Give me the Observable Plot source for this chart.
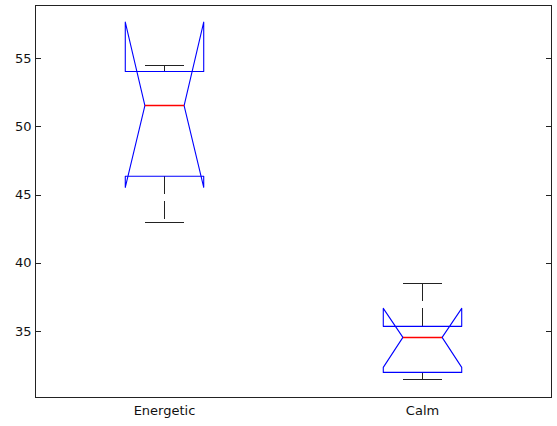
<!DOCTYPE html>
<html>
<head>
<meta charset="utf-8">
<script src="https://cdn.jsdelivr.net/npm/d3@7"></script>
<script src="https://cdn.jsdelivr.net/npm/@observablehq/plot@0.6"></script>
<style>
  html, body { margin: 0; padding: 0; background: #fff; }
  #chart svg { display: block; }
</style>
</head>
<body>
<div id="chart"></div>
<script>
// ---- Data ----
const categories   = ["Energetic", "Calm"];
const upperWhisker = [54.51, 38.48];
const q3           = [54.07, 35.37];
const median       = [51.57, 34.56];
const q1           = [46.38, 31.99];
const lowerWhisker = [43.00, 31.48];
const notchHigh    = [57.69, 36.69];
const notchLow     = [45.57, 32.36];
const yTicks       = [35, 40, 45, 50, 55];
const yDomain      = [30.15, 58.91];

// ---- Geometry constants (styles) ----
const boxHalf = 0.152;
const notchHalf = 0.076;

const stats = categories.map((c, i) => ({
  cat: c, pos: i + 1,
  uw: upperWhisker[i], q3: q3[i], med: median[i], q1: q1[i], lw: lowerWhisker[i],
  nh: notchHigh[i], nl: notchLow[i]
}));

// notched box outline (MATLAB style)
const outline = stats.flatMap(s => [
  [s.pos - boxHalf, s.q1],
  [s.pos - boxHalf, s.nl],
  [s.pos - notchHalf, s.med],
  [s.pos - boxHalf, s.nh],
  [s.pos - boxHalf, s.q3],
  [s.pos + boxHalf, s.q3],
  [s.pos + boxHalf, s.nh],
  [s.pos + notchHalf, s.med],
  [s.pos + boxHalf, s.nl],
  [s.pos + boxHalf, s.q1],
  [s.pos - boxHalf, s.q1]
].map(([x, y]) => ({cat: s.cat, x, y})));

const whiskers = stats.flatMap(s => [
  {cat: s.cat, x: s.pos, y1: s.q3, y2: s.uw},
  {cat: s.cat, x: s.pos, y1: s.q1, y2: s.lw}
]);
const caps = stats.flatMap(s => [
  {x1: s.pos - notchHalf, x2: s.pos + notchHalf, y: s.uw},
  {x1: s.pos - notchHalf, x2: s.pos + notchHalf, y: s.lw}
]);
const medians = stats.map(s => ({x1: s.pos - notchHalf, x2: s.pos + notchHalf, y: s.med}));

const axisColor = "#222";

const chart = Plot.plot({
  width: 557,
  height: 426,
  marginLeft: 35,
  marginRight: 6,
  marginTop: 5,
  marginBottom: 29,
  style: {fontFamily: "DejaVu Sans", fontSize: "13px", color: "#111", background: "#fff"},
  x: {domain: [0.5, 2.5], axis: null},
  y: {domain: yDomain, axis: null},
  marks: [
    Plot.axisY({anchor: "left", ticks: yTicks, tickSize: -6, tickPadding: 10, label: null, stroke: axisColor, fill: "#111", shapeRendering: "crispEdges"}),
    Plot.axisY({anchor: "right", ticks: yTicks, tickSize: -6, tickFormat: () => "", label: null, stroke: axisColor, shapeRendering: "crispEdges"}),
    Plot.axisX({anchor: "bottom", ticks: [1, 2], tickFormat: d => categories[d - 1], tickSize: 0, tickPadding: 8, label: null, fill: "#111"}),
    Plot.link(whiskers, {x1: "x", x2: "x", y1: "y1", y2: "y2", stroke: "#222", strokeWidth: 1, strokeDasharray: "18,7", shapeRendering: "crispEdges"}),
    Plot.link(caps, {x1: "x1", x2: "x2", y1: "y", y2: "y", stroke: "#222", strokeWidth: 1, shapeRendering: "crispEdges"}),
    Plot.line(outline, {x: "x", y: "y", z: "cat", stroke: "#0000ff", strokeWidth: 1.1, curve: "linear"}),
    Plot.link(medians, {x1: "x1", x2: "x2", y1: "y", y2: "y", stroke: "#ff0000", strokeWidth: 1.5}),
    Plot.frame({stroke: axisColor, strokeWidth: 1, shapeRendering: "crispEdges"})
  ]
});
document.getElementById("chart").appendChild(chart);
</script>
</body>
</html>
